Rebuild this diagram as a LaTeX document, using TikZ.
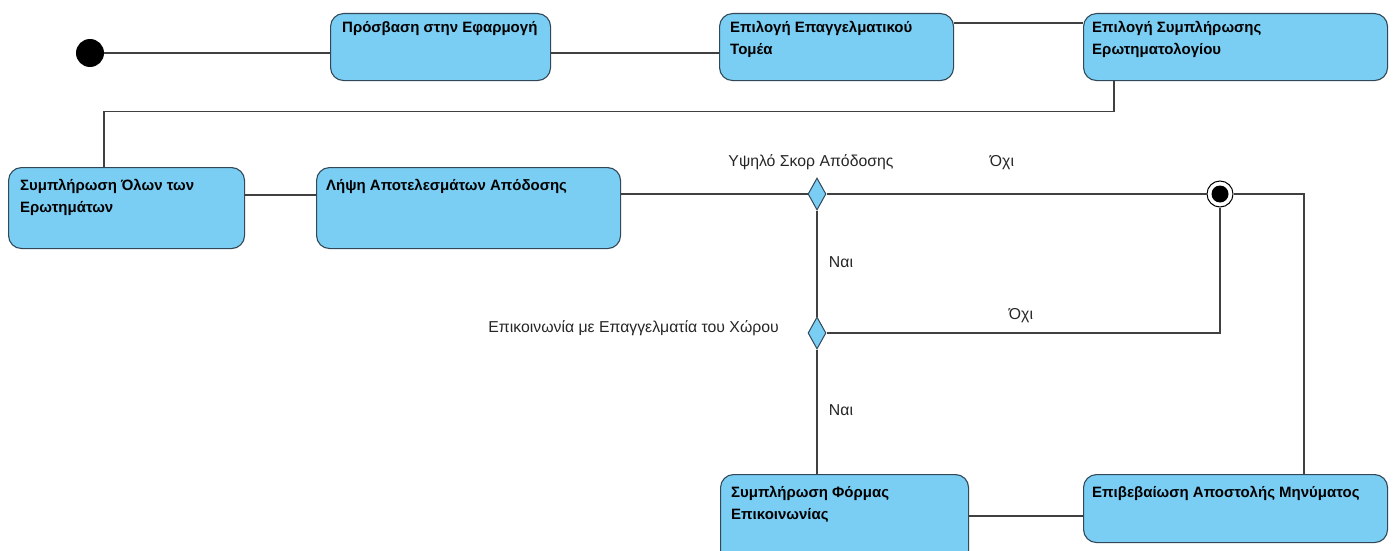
\documentclass[tikz,border=0pt]{standalone}
\usepackage{fontspec}
\setmainfont{Liberation Sans}
\usetikzlibrary{shapes.geometric,calc}

\definecolor{boxfill}{RGB}{122,206,244}
\definecolor{boxline}{RGB}{50,72,88}
\definecolor{wire}{RGB}{64,64,64}

\tikzset{
  state/.style={draw=boxline, line width=1.1pt, fill=boxfill, rounded corners=13pt,
    anchor=north west, inner sep=0pt},
  % base west sits on the baseline of the last line of the text
  statetext/.style={anchor=base west, inner sep=0pt, align=left,
    font=\fontsize{15}{22}\selectfont\bfseries},
  choice/.style={diamond, draw=boxline, line width=1pt, fill=boxfill, inner sep=0pt,
    minimum width=18pt, minimum height=32pt},
  guard/.style={inner sep=0pt, font=\fontsize{15.8}{18}\selectfont, text=black!85},
  wire/.style={draw=wire, line width=1.1pt},
}

\begin{document}
\begin{tikzpicture}[x=1pt,y=-1pt]
\useasboundingbox (0,0) rectangle (1397,551);

% initial and final states
\node[circle, fill=black, minimum size=28pt, inner sep=0pt] (start) at (90,53) {};
\node[circle, draw=black, line width=1pt, fill=white, minimum size=26pt, inner sep=0pt] (fin) at (1220,194) {};
\node[circle, fill=black, minimum size=17pt, inner sep=0pt] (finin) at (fin.center) {};

% action states
\node[state, minimum width=220pt, minimum height=67pt] (A) at (330,13) {};
\node[statetext] (At) at (342,33) {Πρόσβαση στην Εφαρμογή};

\node[state, minimum width=234pt, minimum height=67pt] (B) at (719,13) {};
\node[statetext] (Bt) at (730,55) {Επιλογή Επαγγελματικού\\Τομέα};

\node[state, minimum width=304pt, minimum height=67pt] (C) at (1083,13) {};
\node[statetext] (Ct) at (1092,55) {Επιλογή Συμπλήρωσης\\Ερωτηματολογίου};

\node[state, minimum width=236pt, minimum height=81pt] (D) at (8,167) {};
\node[statetext] (Dt) at (20,212) {Συμπλήρωση Όλων των\\Ερωτημάτων};

\node[state, minimum width=304pt, minimum height=81pt] (E) at (316,167) {};
\node[statetext] (Et) at (326,190) {Λήψη Αποτελεσμάτων Απόδοσης};

\node[state, minimum width=248pt, minimum height=90pt] (F) at (720,474) {};
\node[statetext] (Ft) at (731,519) {Συμπλήρωση Φόρμας\\Επικοινωνίας};

\node[state, minimum width=304pt, minimum height=68pt] (G) at (1083,474) {};
\node[statetext] (Gt) at (1092,497) {Επιβεβαίωση Αποστολής Μηνύματος};

% decisions
\node[choice] (d1) at (817,194) {};
\node[choice] (d2) at (817,333) {};

% guard and decision labels
\node[guard] (l1) at (811,162) {Υψηλό Σκορ Απόδοσης};
\node[guard] (l2) at (1002,163) {Όχι};
\node[guard] (l3) at (841,262) {Ναι};
\node[guard, anchor=east] (l4) at (779,328) {Επικοινωνία με Επαγγελματία του Χώρου};
\node[guard] (l5) at (1021,316) {Όχι};
\node[guard] (l6) at (841,410) {Ναι};

% transitions
\coordinate (cdrop) at ($(C.south west)+(31,0)$);
\coordinate (dtop) at ($(D.north west)+(96,0)$);
\coordinate (grise) at ($(G.north west)+(221,0)$);

\draw[wire] (start.east) -- (start.east -| A.west);
\draw[wire] (A.east |- start.center) -- (B.west |- start.center);
\draw[wire] ($(B.north east)+(0,10)$) -- ($(C.north west)+(0,10)$);
\draw[wire] (cdrop) -- ++(0,30) -| (dtop);
\draw[wire] ($(D.north east)+(0,28)$) -- ($(E.north west)+(0,28)$);
\draw[wire] (E.east |- d1.west) -- (d1.west);
\draw[wire] (d1.east) -- (fin.west);
\draw[wire] (fin.east) -| (grise);
\draw[wire] (d1.south) -- (d2.north);
\draw[wire] (d2.east) -| (fin.south);
\draw[wire] (d2.south) -- (d2.south |- F.north);
\draw[wire] ($(F.north east)+(0,42)$) -- ($(G.north west)+(0,42)$);
\end{tikzpicture}
\end{document}
